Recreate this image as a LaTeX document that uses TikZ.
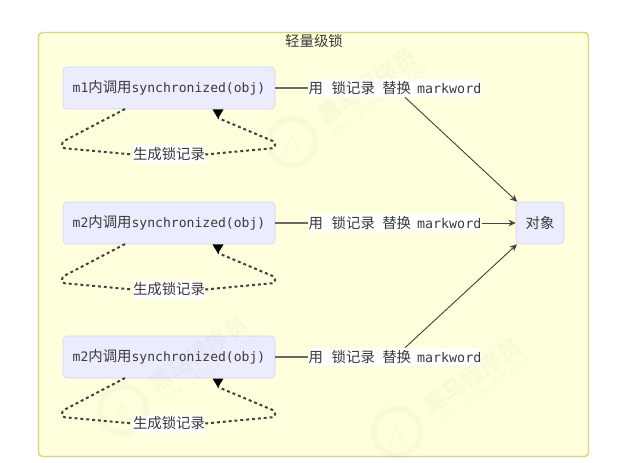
\documentclass[tikz,border=0pt]{standalone}
\usepackage{fontspec}
\setmainfont{DejaVu Sans Mono}
\newfontfamily\cjk{Noto Sans CJK SC}
\usetikzlibrary{arrows.meta}
\definecolor{clusterfill}{HTML}{FFFFDE}
\definecolor{clusterline}{HTML}{D6D67E}
\definecolor{boxfill}{HTML}{ECECFF}
\definecolor{boxline}{HTML}{D5D0F5}
\definecolor{textgray}{HTML}{3A3A3A}
\definecolor{linegray}{HTML}{444444}
\newcommand{\zh}[1]{{\cjk\fontsize{10.8}{12}\selectfont #1}}
\tikzset{
	call/.style={draw=boxline,fill=boxfill,rounded corners=3pt,minimum width=159pt,minimum height=31.5pt,inner sep=0pt,text=textgray,font=\fontsize{9.8}{12}\selectfont},
	edgelabel/.style={fill=white,inner sep=0pt,minimum height=13.5pt,text=textgray,font=\fontsize{10}{12}\selectfont},
	flow/.style={draw=linegray,line width=0.7pt,-{Stealth[length=5.5pt,width=5pt]}},
	plain/.style={draw=linegray!80,line width=0.9pt},
	loopline/.style={draw=black!75,line width=1.5pt,dash pattern=on 2.2pt off 2.2pt,rounded corners=2pt},
	stamp/.style={black,opacity=0.025}
}
\begin{document}
\begin{tikzpicture}[x=0.75pt,y=-0.75pt]
	\useasboundingbox (0,0) rectangle (617,463);
	\fill[white] (0,0) rectangle (617,463);
	\draw[draw=clusterline,fill=clusterfill,line width=1.1pt,rounded corners=3pt] (38.5,32.5) rectangle (588.5,456.5);
	\node[text=textgray] (title) at (314,41) {\zh{轻量级锁}};
	\node[call,minimum width=36pt] (obj) at (540,223) {\zh{对象}};
	% one row per call, with its self loop
	\foreach \Nom/\Y/\Txt in {a/88/m1,b/223/m2,c/357/m2}{
		\node[call] (\Nom) at (169,\Y) {\Txt\zh{内调用}synchronized(obj)};
		\node[edgelabel] (use\Nom) at (395,\Y) {\zh{用}\hspace{6.5pt}\zh{锁记录}\hspace{5.5pt}\zh{替换}\hspace{4.5pt}markword};
		\node[edgelabel] (gen\Nom) at (169,\Y+66.5) {\zh{生成锁记录}};
		\coordinate (top\Nom) at (218,\Y+30);
		\draw[plain] (\Nom) -- (use\Nom);
		\draw[loopline] (125,\Y+21) -- (62,\Y+54) -- (62,\Y+60) -- (gen\Nom.west);
		\draw[loopline] (gen\Nom.east) -- (275,\Y+60) -- (275,\Y+54) -- (top\Nom);
		\fill[black] (212.5,\Y+21.5) -- (223.5,\Y+21.5) -- (218,\Y+30.5) -- cycle;
	}
	\draw[flow] (usea) -- (obj);
	\draw[flow] (useb) -- (obj);
	\draw[flow] (usec) -- (obj);
	% faint stamps laid over the whole page
	\foreach \X/\Y in {292/142,123/410,397/432}{
		\draw[stamp,line width=4.5pt] (\X,\Y) circle (17.5pt);
		\draw[stamp,line width=1pt] (\X-8,\Y+14) -- (\X-1,\Y-5) -- (\X+9,\Y+12);
		\node[stamp,rotate=35,font=\cjk\bfseries\fontsize{17}{18}\selectfont,anchor=west] (mark\X) at (\X+25,\Y-21) {黑马程序员};
		\node[stamp,rotate=35,font=\fontsize{9.5}{10}\selectfont,anchor=west] (site\X) at (\X+36,\Y-7) {www.itheima.com};
	}
\end{tikzpicture}
\end{document}
